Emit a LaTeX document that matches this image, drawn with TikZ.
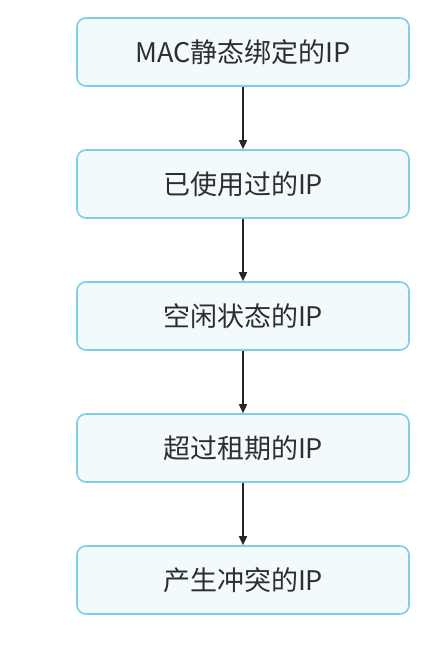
\documentclass[tikz,border=0pt]{standalone}
\usepackage{fontspec}
\setmainfont{Noto Sans CJK SC}
\usetikzlibrary{arrows.meta}
\definecolor{boxborder}{HTML}{7ECFE6}
\definecolor{boxfill}{HTML}{F3FAFD}
\definecolor{txt}{HTML}{2E2E2E}
\begin{document}
\begin{tikzpicture}[x=1pt,y=1pt,
  ipbox/.style={draw=boxborder,fill=boxfill,line width=1.6pt,rounded corners=9pt,
    minimum width=332pt,minimum height=68pt,inner sep=0pt,
    font=\fontsize{27}{31}\selectfont,text=txt},
  flow/.style={draw=black!85,line width=1.6pt,-{Triangle[length=9pt,width=8pt]}}]
\useasboundingbox (0,0) rectangle (442,660);
\node[ipbox] (b1) at (243,608) {MAC静态绑定的IP};
\node[ipbox] (b2) at (243,476) {已使用过的IP};
\node[ipbox] (b3) at (243,344) {空闲状态的IP};
\node[ipbox] (b4) at (243,212) {超过租期的IP};
\node[ipbox] (b5) at (243,80) {产生冲突的IP};
\draw[flow] (b1) -- (b2);
\draw[flow] (b2) -- (b3);
\draw[flow] (b3) -- (b4);
\draw[flow] (b4) -- (b5);
\end{tikzpicture}
\end{document}
